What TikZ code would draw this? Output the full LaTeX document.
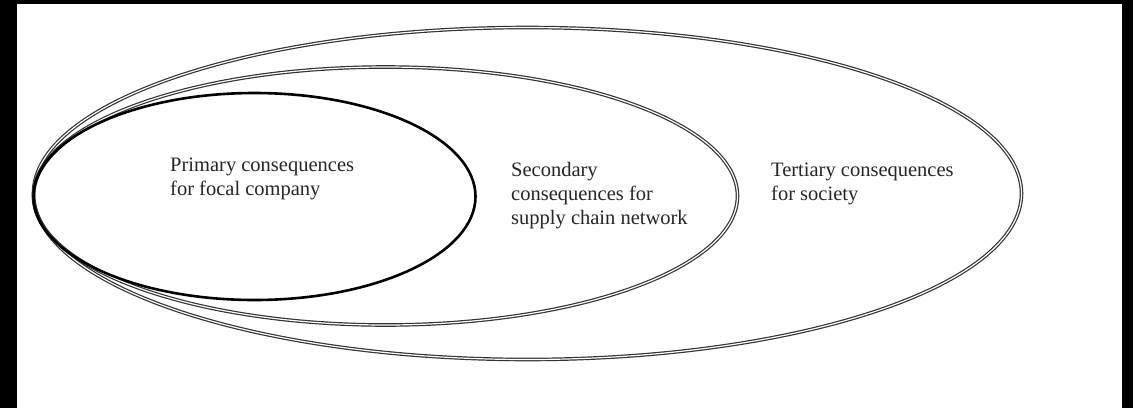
\documentclass[tikz,border=0pt]{standalone}
\usepackage{fontspec}
\setmainfont{Liberation Serif}
\begin{document}
\begin{tikzpicture}[x=1pt,y=-1pt,
  ring/.style={draw=black!80,line width=1.2pt,double=white,double distance=1.2pt},
  corering/.style={draw=black,line width=2.6pt},
  lab/.style={anchor=north west,inner sep=0pt,align=left,text=black!85,
    font=\fontsize{20.5}{24}\selectfont}]
\useasboundingbox (0,0) rectangle (1133,408);
\fill[black] (0,0) rectangle (1133,408);
\fill[white] (17,4) rectangle (1122,408);
\draw[ring] (527.5,193.5) ellipse [x radius=494, y radius=166];
\draw[ring] (385.5,196) ellipse [x radius=352, y radius=129];
\draw[corering] (254.5,196.5) ellipse [x radius=221, y radius=103.5];
\node[lab] (prim) at (170,158) {Primary consequences\\for focal company};
\node[lab] (sec) at (511,162) {Secondary\\consequences for\\supply chain network};
\node[lab] (ter) at (771,163) {Tertiary consequences\\for society};
\end{tikzpicture}
\end{document}
